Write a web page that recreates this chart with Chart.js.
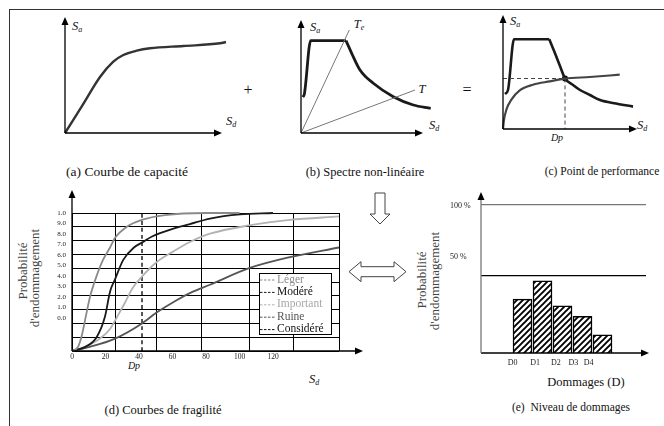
<!DOCTYPE html>
<html><head><meta charset="utf-8">
<script src="https://cdn.jsdelivr.net/npm/chart.js@4.4.1/dist/chart.umd.min.js"></script>
<style>
html,body{margin:0;padding:0;background:#fff;}
body{width:664px;height:426px;position:relative;overflow:hidden;font-family:'Liberation Serif','DejaVu Serif',serif;color:#111;}
canvas.cv{position:absolute;}
.lbl{position:absolute;transform:translate(-50%,-50%);white-space:nowrap;line-height:1;}
.sym{font-style:italic;font-size:12.5px;}
.sym sub{font-size:8px;vertical-align:-2px;}
.op{font-size:16px;}
.vt{position:absolute;transform:translate(-50%,-50%) rotate(-90deg);white-space:nowrap;font-size:13px;color:#444;line-height:1;}
#frameTop{position:absolute;left:9px;top:9px;width:655px;height:0;border-top:1.5px solid #333;}
#frameLeft{position:absolute;left:9px;top:9px;width:0;height:417px;border-left:1.5px solid #333;}
</style></head>
<body>
<div id="frameTop"></div><div id="frameLeft"></div>

<div class="lbl sym" style="left:77px;top:27px">S<sub>a</sub></div>
<div class="lbl sym" style="left:231px;top:122px">S<sub>d</sub></div>
<div class="lbl" style="left:127px;top:172px;font-size:13.5px">(a) Courbe de capacité</div>
<div class="lbl op" style="left:248px;top:90px">+</div>

<div class="lbl sym" style="left:315px;top:28px">S<sub>a</sub></div>
<div class="lbl sym" style="left:359px;top:25px">T<sub>e</sub></div>
<div class="lbl sym" style="left:422px;top:89px">T</div>
<div class="lbl sym" style="left:434px;top:126px">S<sub>d</sub></div>
<div class="lbl" style="left:365px;top:172px;font-size:12.5px">(b) Spectre non-linéaire</div>
<div class="lbl op" style="left:467px;top:90px">=</div>

<div class="lbl sym" style="left:515px;top:22px">S<sub>a</sub></div>
<div class="lbl sym" style="left:557px;top:138px;font-size:10px">Dp</div>
<div class="lbl sym" style="left:642px;top:126px">S<sub>d</sub></div>
<div class="lbl" style="left:602px;top:172px;font-size:11.5px">(c) Point de performance</div>

<div class="vt" style="left:22px;top:271px">Probabilité</div>
<div class="vt" style="left:34px;top:278px">d'endommagement</div>
<div class="lbl sym" style="left:134px;top:366px;font-size:10px">Dp</div>
<div class="lbl sym" style="left:314px;top:380px">S<sub>d</sub></div>
<div class="lbl" style="left:163px;top:410px;font-size:12.5px">(d) Courbes de fragilité</div>

<div class="vt" style="left:421px;top:280px">Probabilité</div>
<div class="vt" style="left:434px;top:281px">d'endommagement</div>
<div class="lbl" style="left:586px;top:382px;font-size:12.5px">Dommages (D)</div>
<div class="lbl" style="left:571px;top:408px;font-size:11.5px">(e)&nbsp; Niveau de dommages</div>

<svg style="position:absolute;left:340px;top:185px" width="80" height="110">
  <path d="M35 8 H45 V29 H50 L40 39 L30 29 H35 Z" fill="#fff" stroke="#444" stroke-width="1"/>
  <path d="M9 86.7 L21 76.7 L21 81.7 L54 81.7 L54 76.7 L66 86.7 L54 96.7 L54 91.7 L21 91.7 L21 96.7 Z" fill="#fff" stroke="#444" stroke-width="1"/>
</svg>

<script>
// ---------------- DATA ----------------
// (a) capacity curve [Sd, Sa]
const capacityA = [[0,0],[17.4,27.6],[35,56],[48.3,71.3],[58.3,78],[71.7,82.3],[85,84.7],[118.3,87],[155,89.7],[161,91]];
// (b) non-linear spectrum, periods
const spectrumRiseB = [[1.7,36],[3.3,38.7],[9.7,92.3],[45,92.3]];
const spectrumDecayB = [[45,92.3],[50.7,79.7],[59,63],[72.3,49.7],[92.3,36.3],[112.3,28],[129.7,24.7]];
const periodTe = [[0,0],[48.3,103]];
const periodT = [[0,0],[114,43]];
// (c) performance point
const spectrumRiseC = [[2,35],[5,39],[11,89.7],[46.3,89.7]];
const spectrumDecayC = [[46.3,89.7],[52,75.7],[57,63],[62,50.7],[70,44],[77,39],[87,34],[97,29],[113,25.5],[130,22.4]];
const capacityC = [[0,0],[0.8,8],[3.4,19.3],[8.4,29.3],[16.7,38.6],[30,44.3],[46.7,47.6],[62,50.3],[86.7,52],[116.7,54.3]];
const perfPoint = [[62,50.5]];
// (d) fragility curves [Sd, probability]
const fragCategories = ['Léger','Modéré','Important','Ruine','Considéré'];
const fragLeger = [[0,0],[3.6,0.03],[6,0.12],[8.4,0.26],[10.7,0.39],[14.3,0.53],[18.5,0.66],[22.7,0.75],[25.7,0.82],[32.7,0.90],[41.6,0.95],[55.5,0.985],[80,1.0],[100,1.0]];
const fragModere = [[0,0],[8,0.03],[14.7,0.10],[19.7,0.25],[22.7,0.43],[25.7,0.52],[30.6,0.66],[37,0.75],[42.4,0.79],[47.8,0.83],[61.5,0.89],[70.4,0.92],[82.4,0.96],[100.3,0.99],[120,1.0]];
const fragImportant = [[0,0],[7.8,0.03],[16.7,0.09],[22.7,0.16],[27.5,0.26],[31.6,0.35],[36.4,0.46],[41.8,0.54],[50.1,0.64],[60.3,0.72],[70.4,0.79],[82.4,0.85],[105.7,0.91],[130.1,0.95],[159.4,0.975]];
const fragRuine = [[0,0],[10.7,0.03],[25.7,0.09],[41.8,0.20],[50.7,0.28],[62.7,0.37],[72.2,0.43],[82.4,0.48],[105.7,0.60],[130.1,0.68],[159.4,0.75]];
const fragConsidered = [[41.8,0],[41.8,1]];
const fragSdMax = 159.4;
const fragGridX = [0,25.7,50.7,77.6,105.7,132.5,159.4];
const fragTickX = [0,20,40,60,80,100,120];
const fragGridY = [0,0.1,0.2,0.3,0.4,0.5,0.6,0.7,0.8,0.9,1.0];
const fragTickY = [1,0.924,0.848,0.772,0.696,0.620,0.544,0.468,0.392,0.316,0.240];
const fragTickLabels = ['1.0','9.0','8.0','7.0','6.0','5.0','4.0','3.0','2.0','1.0','0.0'];
// (e) damage levels
const damageCats = ['D0','D1','D2','D3','D4'];
const damageProb = [36.4,48.8,31.9,24.7,12.3];
const damageTickPos = [-0.07,0.87,1.73,2.46,3.1];
const damageRefLines = [100,52];
const damageTickY = [99.4,65];
const damageTickLabels = ['100 %','50 %'];

// ---------------- HELPERS ----------------
const SERIF = "'Liberation Serif','DejaVu Serif',serif";
Chart.defaults.font.family = SERIF;
Chart.defaults.animation = false;
Chart.defaults.events = [];
Chart.defaults.plugins.legend.display = false;
Chart.defaults.plugins.tooltip.enabled = false;

const pts = a => a.map(([x,y]) => ({x,y}));
function ds(label, arr, color, width, extra){
  return Object.assign({label, data: pts(arr), borderColor: color, backgroundColor: color,
    borderWidth: width, pointRadius: 0, fill: false, tension: 0.4,
    cubicInterpolationMode: 'monotone', clip: false}, extra || {});
}
function mkCanvas(left, top, w, h){
  const c = document.createElement('canvas');
  c.width = w; c.height = h; c.className = 'cv';
  c.style.left = left + 'px'; c.style.top = top + 'px';
  c.style.width = w + 'px'; c.style.height = h + 'px';
  document.body.appendChild(c);
  return c;
}
const axisArrows = {
  id: 'axisArrows',
  afterDatasetsDraw(chart, args, o){
    if (!o || !o.enabled) return;
    const {ctx, chartArea: a} = chart;
    const x0 = a.left, y0 = a.bottom;
    const xt = a.right + (o.xExt || 0), yt = a.top - (o.yExt || 0);
    const L = 8, W = 3.5;
    ctx.save();
    ctx.lineWidth = o.width || 1.3;
    ctx.strokeStyle = o.xColor || '#000';
    ctx.beginPath(); ctx.moveTo(x0, y0); ctx.lineTo(xt - L + 1, y0); ctx.stroke();
    ctx.fillStyle = o.xColor || '#000';
    ctx.beginPath(); ctx.moveTo(xt, y0); ctx.lineTo(xt - L, y0 - W); ctx.lineTo(xt - L, y0 + W); ctx.closePath(); ctx.fill();
    ctx.strokeStyle = o.yColor || '#000';
    ctx.beginPath(); ctx.moveTo(x0, y0); ctx.lineTo(x0, yt + L - 1); ctx.stroke();
    ctx.fillStyle = o.yHead || o.yColor || '#000';
    ctx.beginPath(); ctx.moveTo(x0, yt); ctx.lineTo(x0 - W, yt + L); ctx.lineTo(x0 + W, yt + L); ctx.closePath(); ctx.fill();
    ctx.restore();
  }
};
const boxLegend = {
  id: 'boxLegend',
  afterDraw(chart, args, o){
    if (!o || !o.enabled) return;
    const ctx = chart.ctx;
    ctx.save();
    ctx.fillStyle = '#fff'; ctx.fillRect(o.x, o.y, o.w, o.h);
    ctx.strokeStyle = '#000'; ctx.lineWidth = 1; ctx.strokeRect(o.x + 0.5, o.y + 0.5, o.w, o.h);
    ctx.font = o.font; ctx.textBaseline = 'middle'; ctx.textAlign = 'left';
    chart.data.datasets.forEach((d, i) => {
      const cy = o.y + o.first + i * o.step;
      ctx.strokeStyle = d.borderColor; ctx.lineWidth = 1; ctx.setLineDash([2.5, 1.5]);
      ctx.beginPath(); ctx.moveTo(o.x + 1, cy + 0.5); ctx.lineTo(o.x + 16, cy + 0.5); ctx.stroke();
      ctx.setLineDash([]);
      ctx.fillStyle = o.textColors[i];
      ctx.fillText(d.label, o.x + 18, cy);
    });
    ctx.restore();
  }
};
function sketchChart(box, area, datasets, arrows){
  const c = mkCanvas(box.left, box.top, box.w, box.h);
  return new Chart(c, {
    type: 'line',
    data: {datasets},
    options: {
      responsive: false,
      layout: {padding: {left: area.left - box.left, top: area.top - box.top,
        right: box.left + box.w - area.right, bottom: box.top + box.h - area.bottom}},
      scales: {
        x: {type: 'linear', min: 0, max: area.right - area.left, display: false},
        y: {type: 'linear', min: 0, max: area.bottom - area.top, display: false}
      },
      plugins: {axisArrows: Object.assign({enabled: true}, arrows)}
    },
    plugins: [axisArrows]
  });
}

// ---------------- (a) ----------------
sketchChart({left:55, top:8, w:185, h:132}, {left:65, top:20, right:225, bottom:133},
  [ds('Courbe de capacité', capacityA, '#333', 2.4)], {xExt:-3, yExt:3});

// ---------------- (b) ----------------
sketchChart({left:291, top:8, w:150, h:132}, {left:301, top:20, right:431, bottom:133},
  [ds('Te', periodTe, '#777', 1, {tension:0}),
   ds('T', periodT, '#777', 1, {tension:0}),
   ds('Spectre', spectrumRiseB, '#1a1a1a', 2.8, {tension:0}),
   ds('Spectre2', spectrumDecayB, '#1a1a1a', 2.8)], {xExt:-8, yExt:0});

// ---------------- (c) ----------------
sketchChart({left:493, top:4, w:160, h:132}, {left:503, top:16, right:636, bottom:129},
  [ds('h', [[0, perfPoint[0][1]], perfPoint[0]], '#444', 1, {tension:0, borderDash:[4,3]}),
   ds('v', [perfPoint[0], [perfPoint[0][0], 0]], '#444', 1, {tension:0, borderDash:[4,3]}),
   ds('Capacité', capacityC, '#444', 2.2),
   ds('Spectre', spectrumRiseC, '#1a1a1a', 2.6, {tension:0}),
   ds('Spectre2', spectrumDecayC, '#1a1a1a', 2.6),
   ds('Point', perfPoint, '#000', 0, {pointRadius:3, pointBackgroundColor:'#000', showLine:false})],
  {xExt:1, yExt:1});

// ---------------- (d) ----------------
const cD = mkCanvas(0, 185, 380, 200);
new Chart(cD, {
  type: 'line',
  data: {datasets: [
    ds(fragCategories[0], fragLeger, '#8a8a8a', 1.8),
    ds(fragCategories[1], fragModere, '#1a1a1a', 1.8),
    ds(fragCategories[2], fragImportant, '#b2b2b2', 1.8),
    ds(fragCategories[3], fragRuine, '#555555', 1.8),
    ds(fragCategories[4], fragConsidered, '#111', 1.4, {tension:0, borderDash:[4,3]})
  ]},
  options: {
    responsive: false,
    layout: {padding: {left: 50, top: 28, right: 41, bottom: 14}},
    scales: {
      x: {type:'linear', min:0, max:fragSdMax, position:'bottom', weight:0,
          afterBuildTicks: s => { s.ticks = fragGridX.map(v => ({value:v})); },
          afterFit: s => { s.height = 0; },
          ticks:{display:false}, grid:{color:'#000', lineWidth:1, drawTicks:false}, border:{display:false}},
      xLab: {type:'linear', min:0, max:fragSdMax, position:'bottom', weight:1,
          afterBuildTicks: s => { s.ticks = fragTickX.map(v => ({value:v})); },
          afterFit: s => { s.height = 20; },
          ticks:{font:{size:7.5}, color:'#222', padding:2, autoSkip:false, maxRotation:0},
          grid:{display:false, drawTicks:false}, border:{display:false}},
      y: {type:'linear', min:0, max:1, position:'left', weight:0,
          afterBuildTicks: s => { s.ticks = fragGridY.map(v => ({value:v})); },
          afterFit: s => { s.width = 0; },
          ticks:{display:false}, grid:{color:'#000', lineWidth:1, drawTicks:false}, border:{display:false}},
      yLab: {type:'linear', min:0, max:1, position:'left', weight:1,
          afterBuildTicks: s => { s.ticks = fragTickY.map(v => ({value:v})); },
          afterFit: s => { s.width = 22; },
          ticks:{font:{size:7}, color:'#222', padding:6, autoSkip:false, callback:(v,i) => fragTickLabels[i]},
          grid:{display:false, drawTicks:false}, border:{display:false}}
    },
    plugins: {
      axisArrows: {enabled:true, xExt:24, yExt:23},
      boxLegend: {enabled:true, x:259, y:88, w:72, h:61, first:6.5, step:12.4,
        font:"11.5px " + SERIF,
        textColors:['#8a8a8a','#111','#a8a8a8','#555','#111']}
    }
  },
  plugins: [axisArrows, boxLegend]
});

// ---------------- (e) ----------------
const cE = mkCanvas(440, 185, 224, 190);
function hatchPattern(ctxTarget){
  const s = 6, c = document.createElement('canvas');
  c.width = s; c.height = s;
  const g = c.getContext('2d');
  g.fillStyle = '#fff'; g.fillRect(0, 0, s, s);
  g.strokeStyle = '#000'; g.lineWidth = 1.9;
  g.beginPath();
  g.moveTo(-1, s + 1); g.lineTo(s + 1, -1);
  g.moveTo(-1, 1); g.lineTo(1, -1);
  g.moveTo(s - 1, s + 1); g.lineTo(s + 1, s - 1);
  g.stroke();
  return ctxTarget.createPattern(c, 'repeat');
}
new Chart(cE, {
  type: 'bar',
  data: {datasets: [{label:'Probabilité d\'endommagement',
    data: damageProb.map((v, i) => ({x:i, y:v})),
    backgroundColor: hatchPattern(cE.getContext('2d')), borderColor:'#000', borderWidth:1.5,
    barThickness: 19}]},
  options: {
    responsive: false,
    layout: {padding: {left: 10, top: 20, right: 18, bottom: 8}},
    scales: {
      x: {type:'linear', min:-0.7, max:4.8, position:'bottom', weight:0,
          afterFit: s => { s.height = 0; },
          ticks:{display:false}, grid:{display:false, drawTicks:false}, border:{display:false}},
      xLab: {type:'linear', min:-0.7, max:4.8, position:'bottom', weight:1,
          afterBuildTicks: s => { s.ticks = damageTickPos.map(v => ({value:v})); },
          afterFit: s => { s.height = 14; },
          ticks:{font:{size:8}, color:'#222', padding:5, autoSkip:false, maxRotation:0, callback:(v,i) => damageCats[i]},
          grid:{display:false, drawTicks:false}, border:{display:false}},
      y: {type:'linear', min:0, max:100, position:'left', weight:0,
          afterBuildTicks: s => { s.ticks = damageRefLines.map(v => ({value:v})); },
          afterFit: s => { s.width = 0; },
          ticks:{display:false},
          grid:{drawTicks:false, lineWidth:1.2, color: c => (c.tick && c.tick.value === 100) ? '#777' : '#000'},
          border:{display:false}},
      yLab: {type:'linear', min:0, max:100, position:'left', weight:1,
          afterBuildTicks: s => { s.ticks = damageTickY.map(v => ({value:v})); },
          afterFit: s => { s.width = 31; },
          ticks:{font:{size:8}, color:'#222', crossAlign:'far', autoSkip:false, callback:(v,i) => damageTickLabels[i]},
          grid:{display:false, drawTicks:false}, border:{display:false}}
    },
    plugins: {axisArrows: {enabled:true, xExt:3, yExt:13, yColor:'#777', yHead:'#000'}}
  },
  plugins: [axisArrows]
});
</script>
</body></html>
